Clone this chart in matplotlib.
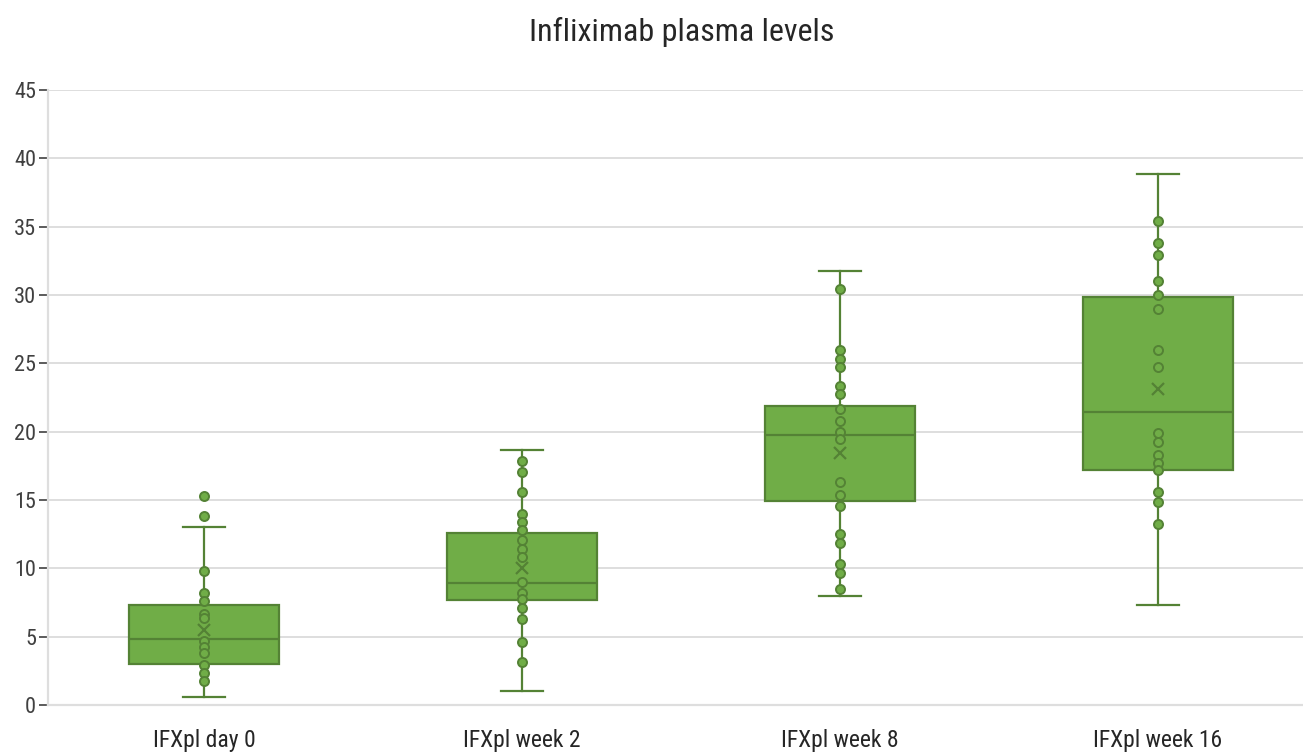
import matplotlib
matplotlib.use('Agg')
import matplotlib.pyplot as plt
import numpy as np

# categories and box statistics
categories = ["IFXpl day 0", "IFXpl week 2", "IFXpl week 8", "IFXpl week 16"]
whisker_low = [0.61, 1.05, 7.98, 7.34]
q1 = [3.0, 7.68, 14.95, 17.2]
median = [4.83, 8.95, 19.78, 21.46]
q3 = [7.3, 12.56, 21.9, 29.88]
whisker_high = [13.0, 18.66, 31.78, 38.83]
mean = [5.49, 10.0, 18.46, 23.09]

# individual points
pts_day0 = [15.31, 13.83, 9.83, 8.17, 7.63, 6.66, 6.35, 4.68, 4.26, 3.82, 2.95, 2.37, 1.76]
pts_week2 = [17.85, 17.05, 15.59, 13.98, 13.39, 12.80, 12.07, 11.44, 10.81, 9.0,
             8.17, 7.73, 7.12, 6.32, 4.59, 3.15]
pts_week8 = [30.44, 25.95, 25.34, 24.75, 23.34, 22.76, 21.66, 20.80, 19.98, 19.44,
             16.30, 15.39, 14.56, 12.49, 11.83, 10.29, 9.63, 8.46]
pts_week16 = [35.41, 33.78, 32.95, 31.05, 30.02, 28.95, 25.98, 24.76, 19.93, 19.24,
              18.32, 17.68, 17.20, 15.56, 14.88, 13.27]
points = [pts_day0, pts_week2, pts_week8, pts_week16]

fill = '#70AD47'
edge = '#548235'
font = ['Liberation Sans Narrow', 'Roboto Condensed', 'DejaVu Sans']
plt.rcParams['font.family'] = font

fig = plt.figure(figsize=(13.03, 7.56), dpi=100)
ax = fig.add_axes([0.0368, 0.0675, 0.9632, 0.8135])

stats = []
for i in range(len(categories)):
    stats.append(dict(med=median[i], q1=q1[i], q3=q3[i], whislo=whisker_low[i],
                      whishi=whisker_high[i], mean=mean[i], fliers=[]))

pos = np.arange(len(categories))
ax.bxp(stats, positions=pos, widths=0.469, capwidths=0.132, patch_artist=True,
       showmeans=True, showfliers=False,
       boxprops=dict(facecolor=fill, edgecolor=edge, linewidth=1.6),
       medianprops=dict(color=edge, linewidth=1.6),
       whiskerprops=dict(color=edge, linewidth=1.6),
       capprops=dict(color=edge, linewidth=1.6),
       meanprops=dict(marker='x', markeredgecolor=edge, markersize=8, markeredgewidth=1.6),
       zorder=3)

for i, vals in enumerate(points):
    ax.plot(np.full(len(vals), pos[i]), vals, 'o', color=fill, markeredgecolor=edge,
            markersize=6.5, markeredgewidth=1.4, zorder=4, linestyle='none')

ax.set_ylim(0, 45)
ax.set_xlim(-0.4906, 3.456)
ax.set_yticks(np.arange(0, 46, 5))
ax.set_xticks(pos)
ax.set_xticklabels(categories, fontsize=17, color='#262626')
ax.tick_params(axis='x', length=0, pad=17)
ax.tick_params(axis='y', length=6.5, width=1.2, color='#404040', labelsize=16,
               labelcolor='#404040', pad=2)
ax.yaxis.grid(True, color='#DEDEDE', linewidth=1.4)
ax.set_axisbelow(True)
for s in ['top', 'right']:
    ax.spines[s].set_visible(False)
ax.spines['left'].set_color('#DEDEDE')
ax.spines['left'].set_linewidth(1.6)
ax.spines['bottom'].set_color('#DEDEDE')
ax.spines['bottom'].set_linewidth(1.6)

fig.text(0.5235, 0.958, "Infliximab plasma levels", ha='center', va='center',
         fontsize=23, color='#262626')

plt.savefig('out.png', dpi=100)
plt.close()
